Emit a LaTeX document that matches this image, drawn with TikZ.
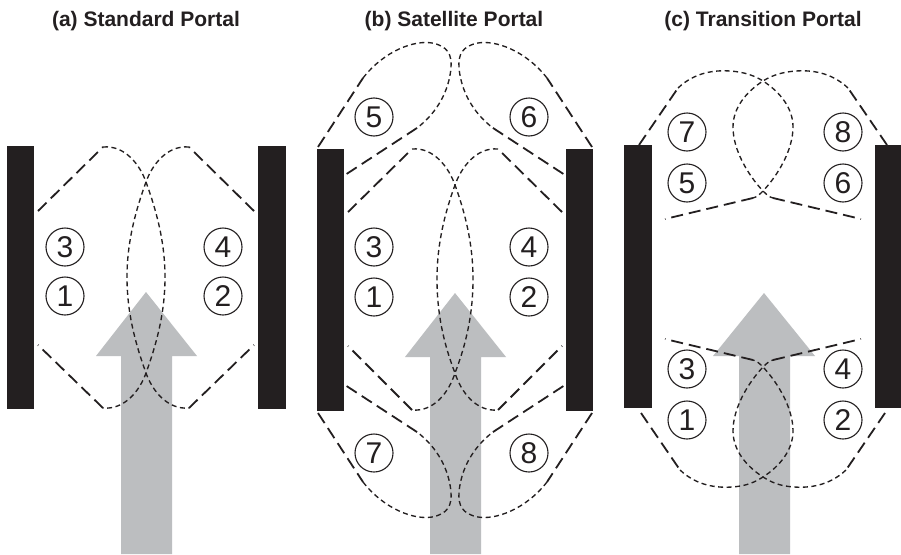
\documentclass[tikz,border=0pt]{standalone}
\usepackage{fontspec}
\setsansfont{Liberation Sans}
\definecolor{barcol}{HTML}{231F20}
\definecolor{arrcol}{HTML}{BCBEC0}
\begin{document}
\begin{tikzpicture}[x=1pt,y=-1pt,
  barbox/.style={fill=barcol,draw=none},
  bigarrow/.style={fill=arrcol,draw=none},
  longdash/.style={draw=barcol,line width=1.8pt,dash pattern=on 12pt off 6pt},
  shortdash/.style={draw=barcol,line width=1.35pt,dash pattern=on 5pt off 3.5pt},
  num/.style={circle,draw=barcol,line width=1.1pt,minimum size=38pt,inner sep=0pt,
     text=barcol,font=\sffamily\fontsize{30}{30}\selectfont},
  ttl/.style={text=barcol,font=\sffamily\bfseries\fontsize{21}{21}\selectfont,anchor=base}]
\path[use as bounding box] (0,0) rectangle (901,554);
\fill[white] (0,0) rectangle (901,554);

% titles
\node[ttl] (ta) at (146,26) {(a) Standard Portal};
\node[ttl] (tb) at (454,26) {(b) Satellite Portal};
\node[ttl] (tc) at (763,26) {(c) Transition Portal};

% ---------- arrows ----------
\fill[bigarrow] (146,292) -- (197,356) -- (172,356) -- (172,554) -- (121,554) -- (121,356) -- (96,356) -- cycle;
\fill[bigarrow] (455,293) -- (506,357) -- (481,357) -- (481,554) -- (430,554) -- (430,357) -- (405,357) -- cycle;
\fill[bigarrow] (764,293) -- (815,356) -- (790,356) -- (790,554) -- (739,554) -- (739,356) -- (713,356) -- cycle;

% ---------- bars ----------
\fill[barbox] (7,146) rectangle (34,409);
\fill[barbox] (258,146) rectangle (286,409);
\fill[barbox] (317,149) rectangle (344,411);
\fill[barbox] (566,149) rectangle (593,411);
\fill[barbox] (624,145) rectangle (652,408);
\fill[barbox] (875,145) rectangle (903,408);

% ---------- panel (a) ----------
\draw[longdash] (38,211) -- (103,147);
\draw[shortdash] (103,147) .. controls (125,145) and (140,165) .. (146,182)
  .. controls (158,215) and (165,245) .. (165,277)
  .. controls (165,310) and (158,340) .. (146,373)
  .. controls (140,390) and (125,410) .. (103,408);
\draw[longdash] (103,408) -- (38,345);
\draw[longdash] (254,211) -- (189,147);
\draw[shortdash] (189,147) .. controls (167,145) and (152,165) .. (146,182)
  .. controls (134,215) and (127,245) .. (127,277)
  .. controls (127,310) and (134,340) .. (146,373)
  .. controls (152,390) and (167,410) .. (189,408);
\draw[longdash] (189,408) -- (254,345);

\node[num] (a3) at (65,247) {3};
\node[num] (a1) at (65,296) {1};
\node[num] (a4) at (223,247) {4};
\node[num] (a2) at (223,296) {2};

% ---------- panel (b) ----------
% middle
\draw[longdash] (348,212) -- (412,149);
\draw[shortdash] (412,149) .. controls (434,147) and (449,168) .. (455,185)
  .. controls (467,218) and (473,248) .. (473,279)
  .. controls (473,312) and (467,342) .. (455,373)
  .. controls (449,392) and (434,412) .. (412,410);
\draw[longdash] (412,410) -- (348,346);
\draw[longdash] (562,212) -- (498,149);
\draw[shortdash] (498,149) .. controls (476,147) and (461,168) .. (455,185)
  .. controls (443,218) and (437,248) .. (437,279)
  .. controls (437,312) and (443,342) .. (455,373)
  .. controls (461,392) and (476,412) .. (498,410);
\draw[longdash] (498,410) -- (562,346);
% top
\draw[longdash] (318,147) -- (363,78);
\draw[shortdash] (363,78) .. controls (385,50) and (415,40) .. (432,43)
  .. controls (448,46) and (452,55) .. (451,68)
  .. controls (449,90) and (438,112) .. (417,128);
\draw[longdash] (417,128) -- (345,175);
\draw[longdash] (592,147) -- (547,78);
\draw[shortdash] (547,78) .. controls (525,50) and (495,40) .. (478,43)
  .. controls (462,46) and (458,55) .. (459,68)
  .. controls (461,90) and (472,112) .. (493,128);
\draw[longdash] (493,128) -- (565,175);
% bottom
\draw[longdash] (318,413) -- (363,482);
\draw[shortdash] (363,482) .. controls (385,510) and (415,520) .. (432,517)
  .. controls (448,514) and (452,505) .. (451,492)
  .. controls (449,470) and (438,448) .. (417,432);
\draw[longdash] (417,432) -- (345,385);
\draw[longdash] (592,413) -- (547,482);
\draw[shortdash] (547,482) .. controls (525,510) and (495,520) .. (478,517)
  .. controls (462,514) and (458,505) .. (459,492)
  .. controls (461,470) and (472,448) .. (493,432);
\draw[longdash] (493,432) -- (565,385);

\node[num] (b5) at (374,117) {5};
\node[num] (b6) at (529,117) {6};
\node[num] (b3) at (374,247) {3};
\node[num] (b4) at (529,247) {4};
\node[num] (b1) at (374,297) {1};
\node[num] (b2) at (529,297) {2};
\node[num] (b7) at (374,453) {7};
\node[num] (b8) at (529,453) {8};

% ---------- panel (c) ----------
% top
\draw[longdash] (639,145) -- (678,88);
\draw[shortdash] (678,88) .. controls (695,72) and (715,70) .. (730,71)
  .. controls (745,72) and (755,76) .. (763,81)
  .. controls (780,92) and (793,108) .. (793,127)
  .. controls (793,150) and (778,175) .. (763,191)
  .. controls (760,194) and (757,197) .. (753,198);
\draw[longdash] (753,198) -- (665,219);
\draw[longdash] (887,145) -- (848,88);
\draw[shortdash] (848,88) .. controls (831,72) and (811,70) .. (796,71)
  .. controls (781,72) and (771,76) .. (763,81)
  .. controls (746,92) and (733,108) .. (733,127)
  .. controls (733,150) and (748,175) .. (763,191)
  .. controls (766,194) and (769,197) .. (773,198);
\draw[longdash] (773,198) -- (861,219);
% bottom
\draw[longdash] (641,413) -- (680,470);
\draw[shortdash] (680,470) .. controls (697,486) and (717,488) .. (732,487)
  .. controls (747,486) and (755,482) .. (763,477)
  .. controls (780,466) and (793,450) .. (793,431)
  .. controls (793,408) and (778,383) .. (763,367)
  .. controls (760,364) and (757,361) .. (753,360);
\draw[longdash] (753,360) -- (665,339);
\draw[longdash] (885,413) -- (846,470);
\draw[shortdash] (846,470) .. controls (829,486) and (809,488) .. (794,487)
  .. controls (779,486) and (771,482) .. (763,477)
  .. controls (746,466) and (733,450) .. (733,431)
  .. controls (733,408) and (748,383) .. (763,367)
  .. controls (766,364) and (769,361) .. (773,360);
\draw[longdash] (773,360) -- (861,339);

\node[num] (c7) at (687,132) {7};
\node[num] (c8) at (843,132) {8};
\node[num] (c5) at (687,183) {5};
\node[num] (c6) at (843,183) {6};
\node[num] (c3) at (687,369) {3};
\node[num] (c4) at (843,369) {4};
\node[num] (c1) at (687,420) {1};
\node[num] (c2) at (843,420) {2};
\end{tikzpicture}
\end{document}
